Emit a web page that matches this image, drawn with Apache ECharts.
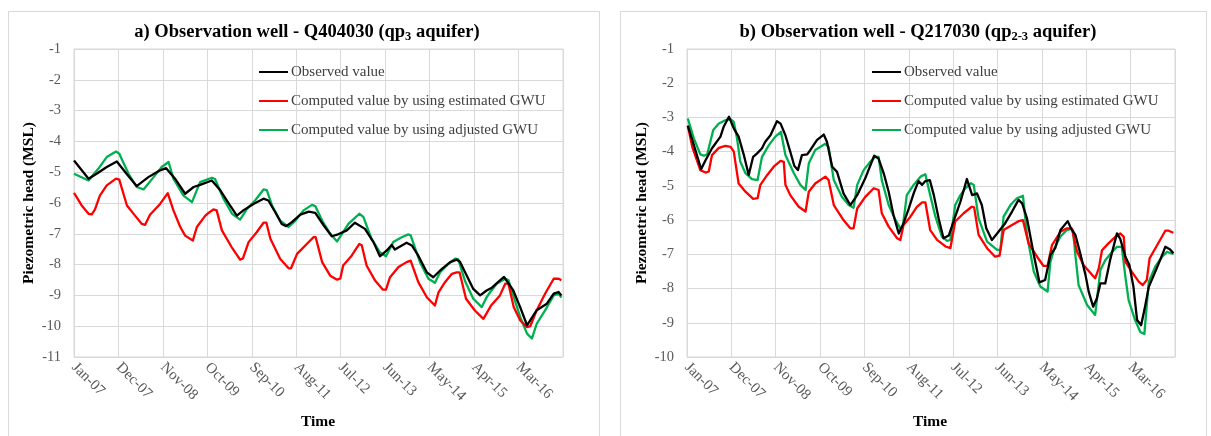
<!DOCTYPE html>
<html>
<head>
<meta charset="utf-8">
<script src="https://cdn.jsdelivr.net/npm/echarts@6/dist/echarts.min.js"></script>
<style>html,body{margin:0;padding:0;background:#fff;}#c{width:1211px;height:436px;}</style>
</head>
<body>
<div id="c"></div>
<script>
// x = months since Jan-07, y = piezometric head (m MSL)
const tickLabels = ['Jan-07','Dec-07','Nov-08','Oct-09','Sep-10','Aug-11','Jul-12','Jun-13','May-14','Apr-15','Mar-16'];
const seriesNames = ['Observed value','Computed value by using estimated GWU','Computed value by using adjusted GWU'];

// a) Q404030
const aObserved = [[0,-4.62],[3.6,-5.21],[5.6,-5.05],[8.1,-4.83],[10.6,-4.65],[13,-5.05],[15.5,-5.45],[18.4,-5.16],[21.3,-4.94],[22.8,-4.87],[25,-5.21],[27.5,-5.70],[29.6,-5.48],[31.2,-5.41],[34.1,-5.27],[36.2,-5.59],[38.6,-6.08],[40.3,-6.41],[41.9,-6.24],[44.4,-6.03],[46.9,-5.86],[48.1,-5.92],[49.8,-6.30],[51.4,-6.68],[52.5,-6.75],[53.9,-6.62],[56,-6.38],[58.1,-6.28],[59.7,-6.32],[61.8,-6.73],[63.8,-7.08],[65.1,-7.03],[67.5,-6.89],[69.5,-6.64],[72,-6.84],[74.1,-7.27],[75.7,-7.73],[77.4,-7.54],[78.6,-7.36],[79.4,-7.51],[82.3,-7.29],[83.6,-7.38],[85.2,-7.71],[87.3,-8.25],[88.9,-8.41],[90.6,-8.19],[93.1,-7.92],[94.7,-7.84],[95.5,-7.91],[97.2,-8.36],[98.8,-8.79],[100.5,-9.0],[102.1,-8.84],[103.4,-8.75],[105.4,-8.51],[106.4,-8.40],[108.7,-8.84],[110.4,-9.38],[112.1,-9.97],[114.5,-9.48],[117,-9.27],[118.7,-8.94],[119.9,-8.89],[120.6,-9.0]];
const aEstimated = [[0,-5.67],[1.9,-6.08],[3.6,-6.35],[4.4,-6.37],[5.2,-6.21],[6.4,-5.76],[8.1,-5.43],[10.4,-5.21],[11.2,-5.24],[13.1,-6.08],[15.1,-6.41],[16.8,-6.68],[17.6,-6.71],[18.8,-6.38],[21.3,-6.03],[23.2,-5.68],[24.6,-6.24],[26.3,-6.78],[27.5,-7.06],[29.4,-7.22],[30.4,-6.78],[32.5,-6.41],[33.3,-6.32],[34.5,-6.21],[35.3,-6.24],[36.6,-6.89],[39,-7.43],[41.1,-7.84],[41.8,-7.80],[43.2,-7.27],[45.2,-6.95],[46.9,-6.64],[47.6,-6.64],[48.6,-7.16],[51,-7.81],[53.1,-8.12],[53.7,-8.12],[55.2,-7.65],[57.6,-7.33],[59.3,-7.11],[59.8,-7.11],[61.4,-7.92],[63.4,-8.36],[65.1,-8.49],[65.9,-8.45],[66.6,-8.03],[68.7,-7.71],[70.6,-7.33],[71.2,-7.37],[72.4,-8.03],[74.5,-8.52],[76.4,-8.81],[77.2,-8.81],[78.2,-8.41],[80.3,-8.08],[82.3,-7.92],[83.3,-7.87],[85.2,-8.57],[87.3,-9.06],[89.3,-9.33],[90.2,-8.9],[91.8,-8.57],[93.5,-8.30],[94.7,-8.25],[95.4,-8.25],[97,-9.11],[99.2,-9.49],[101.3,-9.76],[103.2,-9.33],[105.4,-9.0],[106.7,-8.62],[107.5,-8.62],[108.8,-9.38],[110.4,-9.81],[112.1,-10.03],[112.9,-10.0],[114.5,-9.48],[116.6,-8.94],[118.7,-8.46],[119.9,-8.46],[120.6,-8.51]];
const aAdjusted = [[0,-5.05],[3.6,-5.27],[6,-4.89],[8.1,-4.51],[10.4,-4.33],[11.2,-4.4],[13.5,-5.05],[15.5,-5.48],[17.2,-5.56],[19.7,-5.16],[21.7,-4.83],[23.4,-4.67],[24.6,-5.21],[27.1,-5.76],[29.2,-5.97],[31.2,-5.32],[34.1,-5.18],[34.9,-5.22],[37,-5.86],[39.1,-6.35],[41.1,-6.54],[42.8,-6.19],[44.8,-5.92],[46.9,-5.56],[47.7,-5.58],[49,-6.08],[51,-6.57],[53.1,-6.78],[54.8,-6.57],[56.8,-6.24],[58.9,-6.06],[59.7,-6.1],[61.4,-6.57],[63.4,-7.0],[65.1,-7.25],[66.3,-7.0],[67.9,-6.68],[70.6,-6.35],[71.6,-6.45],[73.6,-7.16],[75.7,-7.6],[77.2,-7.73],[79,-7.27],[81.1,-7.11],[82.7,-7.02],[83.3,-7.05],[85.6,-7.92],[87.7,-8.46],[89.3,-8.59],[90.6,-8.25],[92.6,-7.98],[94.3,-7.81],[95.1,-7.83],[96.8,-8.55],[98.8,-9.11],[100.9,-9.38],[102.1,-9.06],[103,-8.89],[104.6,-8.62],[106.7,-8.46],[107.5,-8.5],[108.8,-9.05],[110.4,-9.70],[112.1,-10.24],[113.3,-10.4],[114.5,-9.92],[116.6,-9.48],[118.7,-9.0],[119.9,-8.94],[120.6,-9.07]];

// b) Q217030
const bObserved = [[0.2,-3.24],[1.7,-3.81],[3.5,-4.51],[4.6,-4.25],[6.2,-3.90],[8.3,-3.56],[9.1,-3.27],[10.4,-2.98],[11.6,-3.32],[12.8,-3.56],[14.1,-4.10],[15.3,-4.68],[16.4,-4.15],[17.4,-4.05],[18.6,-3.9],[19.4,-3.71],[20.7,-3.52],[22.3,-3.11],[23.2,-3.18],[24.4,-3.52],[25.6,-4.0],[26.6,-4.41],[27.5,-4.54],[28.5,-4.10],[29.8,-4.08],[30.6,-3.95],[32.2,-3.66],[33.9,-3.50],[34.7,-3.71],[36,-4.44],[37.2,-4.59],[38.8,-5.22],[40.5,-5.56],[42.2,-5.27],[44.2,-4.78],[46.4,-4.12],[47.5,-4.20],[48.9,-4.68],[50,-5.17],[51.2,-5.85],[52.5,-6.39],[53.7,-6.09],[55,-5.66],[56.2,-5.22],[57.4,-4.86],[58.3,-4.97],[59.1,-4.86],[60.2,-4.83],[61.2,-5.27],[62.4,-5.95],[63.6,-6.53],[64.9,-6.45],[66.5,-5.9],[67.8,-5.46],[69.4,-4.80],[70.7,-5.27],[71.9,-5.22],[73.1,-5.56],[74.2,-6.24],[75.6,-6.58],[76.9,-6.39],[78.9,-6.09],[80.6,-5.75],[82.2,-5.41],[83.1,-5.51],[84.3,-5.95],[86,-7.02],[87.4,-7.82],[88.8,-7.75],[90.1,-7.02],[91.3,-6.82],[92.6,-6.29],[94.4,-6.03],[95.2,-6.24],[96.3,-6.43],[97.5,-6.97],[98.8,-7.6],[99.6,-8.09],[100.7,-8.53],[101.6,-8.3],[102.5,-7.85],[103.7,-7.85],[104.9,-7.17],[106.6,-6.39],[107.4,-6.54],[108.7,-7.07],[109.7,-7.32],[110.7,-7.95],[111.6,-8.92],[112.6,-9.07],[113.4,-8.63],[114.5,-7.95],[116.1,-7.51],[117.3,-7.17],[118.6,-6.78],[119.8,-6.86],[120.6,-6.97]];
const bEstimated = [[0.2,-3.24],[1.3,-3.86],[3.3,-4.54],[4.6,-4.61],[5.4,-4.58],[6.2,-4.10],[7.9,-3.89],[9.5,-3.83],[10.8,-3.86],[11.6,-4.0],[12.8,-4.93],[14.5,-5.17],[16.4,-5.38],[17.5,-5.36],[18.2,-4.97],[19.9,-4.68],[21.5,-4.44],[23.2,-4.27],[24,-4.3],[24.4,-4.97],[25.6,-5.27],[27.7,-5.61],[29.4,-5.75],[30.2,-5.17],[31.8,-4.93],[34.3,-4.73],[35.1,-4.83],[36.4,-5.56],[38.8,-6.0],[40.5,-6.24],[41.3,-6.24],[42.2,-5.66],[44.2,-5.32],[46.3,-5.07],[47.5,-5.12],[48.3,-5.8],[50,-6.19],[52.1,-6.53],[52.9,-6.58],[53.7,-6.14],[55.4,-5.90],[57,-5.61],[58.3,-5.48],[59.1,-5.48],[60.3,-6.29],[62,-6.58],[64.1,-6.77],[65.3,-6.82],[66.5,-6.04],[68.6,-5.80],[70.6,-5.61],[71.2,-5.63],[72.3,-6.43],[74.4,-6.82],[76.4,-7.07],[77.5,-7.04],[78.5,-6.29],[80.6,-6.14],[82.2,-6.03],[83.3,-6.0],[83.6,-6.05],[84.7,-6.68],[86.8,-7.07],[88.4,-7.34],[89.4,-7.34],[90.5,-6.73],[92.6,-6.34],[94.2,-6.24],[95.4,-6.24],[96.7,-6.92],[98.3,-7.31],[101.2,-7.70],[102.1,-7.41],[102.9,-6.88],[104.5,-6.68],[106.2,-6.49],[107.4,-6.39],[108.3,-6.49],[108.7,-7.22],[110.3,-7.51],[112,-7.80],[113,-7.90],[114,-7.75],[114.7,-7.12],[116.1,-6.83],[117.3,-6.58],[118.6,-6.31],[119.4,-6.31],[120.6,-6.37]];
const bAdjusted = [[0.2,-3.03],[1.7,-3.61],[3.3,-4.08],[4.2,-4.12],[5,-4.08],[6.5,-3.37],[7.9,-3.18],[9.5,-3.08],[10.8,-3.05],[11.6,-3.13],[12.4,-3.61],[13.2,-4.29],[14.5,-4.63],[16.1,-4.80],[17.5,-4.83],[18.6,-4.15],[20.3,-3.81],[21.9,-3.56],[23.3,-3.42],[24.4,-4.10],[26.5,-4.63],[28.1,-4.97],[29.4,-5.12],[30.2,-4.34],[31.8,-3.95],[34.3,-3.77],[35.1,-3.86],[36.4,-4.83],[38.4,-5.32],[40.1,-5.56],[41.3,-5.64],[42.2,-4.97],[43.8,-4.54],[45.5,-4.29],[46.7,-4.15],[47.5,-4.15],[48.3,-4.83],[50,-5.56],[51.7,-6.0],[52.9,-6.24],[53.5,-6.2],[54.5,-5.27],[56.2,-4.97],[57.9,-4.73],[59.1,-4.66],[59.5,-4.68],[60.3,-5.27],[61.6,-5.90],[63.2,-6.48],[64.5,-6.61],[65.3,-6.58],[66.5,-5.56],[67.8,-5.27],[69,-5.07],[70.4,-4.92],[71.1,-4.97],[72.3,-5.95],[74.4,-6.63],[76.9,-6.87],[77.7,-6.87],[78.5,-5.9],[80.2,-5.56],[81.8,-5.36],[83.3,-5.29],[83.6,-5.32],[84.3,-6.43],[86,-7.51],[87.6,-7.94],[89.4,-8.09],[90.1,-7.22],[91.1,-6.82],[92.6,-6.48],[94.2,-6.29],[95.2,-6.26],[95.7,-6.3],[96.3,-7.02],[97.1,-7.90],[99.2,-8.48],[101.2,-8.77],[101.6,-8.78],[102.5,-7.46],[103.7,-7.17],[105.4,-6.93],[106.6,-6.78],[107.8,-6.78],[108.7,-7.66],[109.5,-8.34],[111.1,-8.92],[112.4,-9.27],[113.4,-9.33],[114.5,-7.80],[116.1,-7.36],[117.8,-7.07],[119,-6.93],[120.6,-6.99]];

const FONT = 'Liberation Serif';
const colors = ['#000000', '#ff0000', '#00b050'];
const gridColor = '#d9d9d9';

function xAxisFor(idx) {
  return {
    type: 'value', gridIndex: idx, min: 0, max: 121, interval: 11,
    axisLine: { show: false }, axisTick: { show: false },
    splitLine: { show: true, lineStyle: { color: gridColor, width: 1 } },
    axisLabel: {
      rotate: -45, margin: 8, color: '#595959', fontFamily: FONT, fontSize: 15,
      showMaxLabel: false,
      formatter: v => { const l = tickLabels[Math.round(v / 11)]; return l === undefined ? '' : l; }
    }
  };
}
function yAxisFor(idx, min) {
  return {
    type: 'value', gridIndex: idx, min: min, max: -1, interval: 1,
    axisLine: { show: true, lineStyle: { color: gridColor, width: 1 } },
    axisTick: { show: false },
    splitLine: { show: true, lineStyle: { color: gridColor, width: 1 } },
    axisLabel: { margin: 13, color: '#595959', fontFamily: FONT, fontSize: 14.5 }
  };
}
function lineSeries(name, data, ci, idx) {
  return {
    name: name, type: 'line', xAxisIndex: idx, yAxisIndex: idx, data: data,
    showSymbol: false, symbol: 'none', smooth: false,
    lineStyle: { color: colors[ci], width: 2.3, join: 'round' },
    itemStyle: { color: colors[ci] }, z: 10 - ci
  };
}
function legendFor(left) {
  return {
    orient: 'vertical', left: left, top: 64, padding: 0, itemGap: 13, itemWidth: 29, itemHeight: 2,
    icon: 'rect', selectedMode: false, data: seriesNames,
    textStyle: { fontFamily: FONT, fontSize: 15, color: '#404040', lineHeight: 16, padding: [0, 0, 0, -2] }
  };
}
const titleRich = {
  b: { fontFamily: FONT, fontSize: 18.5, fontWeight: 'bold', fill: '#000', lineHeight: 22 },
  s: { fontFamily: FONT, fontSize: 12.5, fontWeight: 'bold', fill: '#000', lineHeight: 13, verticalAlign: 'bottom' }
};
const nameStyle = { fontFamily: FONT, fontSize: 15.5, fontWeight: 'bold', fill: '#000', align: 'center', verticalAlign: 'middle' };

const chart = echarts.init(document.getElementById('c'), null, { renderer: 'canvas' });
chart.setOption({
  animation: false,
  backgroundColor: '#fff',
  grid: [
    { left: 74, right: 648, top: 49, bottom: 79, show: true, borderColor: gridColor, borderWidth: 1, backgroundColor: 'transparent' },
    { left: 687, right: 36, top: 49, bottom: 79, show: true, borderColor: gridColor, borderWidth: 1, backgroundColor: 'transparent' }
  ],
  xAxis: [xAxisFor(0), xAxisFor(1)],
  yAxis: [yAxisFor(0, -11), yAxisFor(1, -10)],
  legend: [legendFor(259), legendFor(872)],
  series: [
    lineSeries(seriesNames[0], aObserved, 0, 0),
    lineSeries(seriesNames[1], aEstimated, 1, 0),
    lineSeries(seriesNames[2], aAdjusted, 2, 0),
    lineSeries(seriesNames[0], bObserved, 0, 1),
    lineSeries(seriesNames[1], bEstimated, 1, 1),
    lineSeries(seriesNames[2], bAdjusted, 2, 1)
  ],
  graphic: [
    { type: 'rect', silent: true, z: -10, shape: { x: 8.5, y: 11.5, width: 591, height: 440 }, style: { fill: 'none', stroke: gridColor, lineWidth: 1 } },
    { type: 'rect', silent: true, z: -10, shape: { x: 620.5, y: 11.5, width: 586, height: 440 }, style: { fill: 'none', stroke: gridColor, lineWidth: 1 } },
    { type: 'text', x: 307, y: 32, style: { text: '{b|a) Observation well - Q404030 (qp}{s|3}{b| aquifer)}', align: 'center', verticalAlign: 'middle', rich: titleRich } },
    { type: 'text', x: 918, y: 32, style: { text: '{b|b) Observation well - Q217030 (qp}{s|2-3}{b| aquifer)}', align: 'center', verticalAlign: 'middle', rich: titleRich } },
    { type: 'text', x: 29, y: 203, rotation: Math.PI / 2, style: Object.assign({ text: 'Piezometric head (MSL)' }, nameStyle) },
    { type: 'text', x: 642, y: 203, rotation: Math.PI / 2, style: Object.assign({ text: 'Piezometric head (MSL)' }, nameStyle) },
    { type: 'text', x: 318, y: 422, style: Object.assign({ text: 'Time' }, nameStyle) },
    { type: 'text', x: 930, y: 422, style: Object.assign({ text: 'Time' }, nameStyle) }
  ]
});
</script>
</body>
</html>
